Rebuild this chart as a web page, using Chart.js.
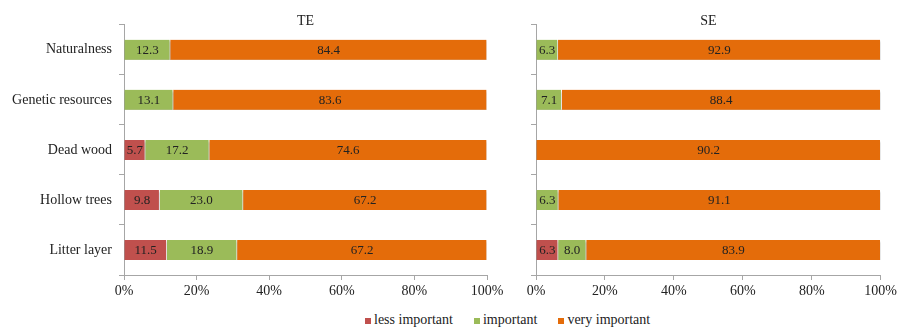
<!DOCTYPE html>
<html>
<head>
<meta charset="utf-8">
<script src="https://cdn.jsdelivr.net/npm/chart.js@4.4.0/dist/chart.umd.min.js"></script>
<style>
  body { margin: 0; background: #fff; width: 900px; height: 327px; overflow: hidden; position: relative; font-family: "Liberation Serif", serif; }
  #teBox { position: absolute; left: 0; top: 0; width: 520px; height: 305px; }
  #seBox { position: absolute; left: 510px; top: 0; width: 390px; height: 305px; }
  #legend { position: absolute; left: 365px; top: 311px; display: flex; gap: 21px; font-size: 14px; line-height: 17px; color: #222; }
  #legend span { display: flex; align-items: center; }
  #legend i { display: inline-block; width: 6px; height: 6px; margin-right: 3px; margin-top: 2px; }
</style>
</head>
<body>
<div id="teBox"><canvas id="teChart"></canvas></div>
<div id="seBox"><canvas id="seChart"></canvas></div>
<div id="legend">
  <span><i style="background:#C0504D"></i>less important</span>
  <span><i style="background:#9BBB59"></i>important</span>
  <span><i style="background:#E46C0A"></i>very important</span>
</div>
<script>
// answers per element, in %, as printed on the bars
const categories = ["Naturalness", "Genetic resources", "Dead wood", "Hollow trees", "Litter layer"];

const teLess = [null, null, 5.7, 9.8, 11.5];
const teImportant = [12.3, 13.1, 17.2, 23.0, 18.9];
const teVery = [84.4, 83.6, 74.6, 67.2, 67.2];

const seLess = [null, null, null, null, 6.3];
const seImportant = [6.3, 7.1, null, 6.3, 8.0];
const seVery = [92.9, 88.4, 90.2, 91.1, 83.9];

const serif = '"Liberation Serif", "Times New Roman", serif';

// bars are drawn as 100% stacked, so each row is scaled to its own total
function shares(series, all) {
  return series.map((v, j) => {
    if (v == null) return null;
    let tot = 0;
    all.forEach(s => { tot += s[j] || 0; });
    return v / tot * 100;
  });
}

const barShadow = {
  id: "barShadow",
  beforeDatasetsDraw(chart) {
    const c = chart.ctx;
    c.save();
    c.shadowColor = "rgba(0,0,0,0.28)";
    c.shadowOffsetY = 2;
    c.shadowBlur = 2;
  },
  afterDatasetsDraw(chart) {
    chart.ctx.restore();
  }
};

const valueLabels = {
  id: "valueLabels",
  afterDatasetsDraw(chart) {
    const ctx = chart.ctx;
    ctx.save();
    ctx.font = "13px " + serif;
    ctx.fillStyle = "#222";
    ctx.textAlign = "center";
    ctx.textBaseline = "middle";
    chart.data.datasets.forEach((ds, i) => {
      chart.getDatasetMeta(i).data.forEach((bar, j) => {
        const v = ds.shown[j];
        if (v == null) return;
        const p = bar.getProps(["x", "y", "base"], true);
        ctx.fillText(v.toFixed(1), (p.x + p.base) / 2, p.y + 1);
      });
    });
    ctx.restore();
  }
};

function makePanel(id, title, less, imp, very, showNames, axisWidth, padRight) {
  const all = [less, imp, very];
  const mk = (label, vals, color) => ({
    label: label,
    data: shares(vals, all),
    shown: vals,
    backgroundColor: color,
    borderColor: "#ffffff",
    borderWidth: { left: 0, right: 1, top: 0, bottom: 0 },
    borderSkipped: false,
    barThickness: 20
  });

  return new Chart(document.getElementById(id), {
    type: "bar",
    data: {
      labels: categories,
      datasets: [
        mk("less important", less, "#C0504D"),
        mk("important", imp, "#9BBB59"),
        mk("very important", very, "#E46C0A")
      ]
    },
    options: {
      indexAxis: "y",
      responsive: true,
      maintainAspectRatio: false,
      animation: false,
      layout: { padding: { left: 0, right: padRight, top: 0, bottom: 0 } },
      plugins: {
        legend: { display: false },
        tooltip: { enabled: false },
        title: {
          display: true,
          text: title,
          fullSize: false,
          color: "#222",
          font: { family: serif, size: 14, weight: "normal" },
          padding: { top: 13, bottom: -5 }
        }
      },
      scales: {
        x: {
          stacked: true,
          min: 0,
          max: 100,
          ticks: {
            stepSize: 20,
            color: "#222",
            padding: 3,
            font: { family: serif, size: 14 },
            callback: v => v + "%"
          },
          grid: { drawOnChartArea: false, tickLength: 5, color: "#A6A6A6" },
          border: { color: "#A6A6A6" },
          afterFit: s => { s.height = 30; }
        },
        y: {
          stacked: true,
          ticks: {
            display: showNames,
            color: "#222",
            padding: 7,
            font: { family: serif, size: 14 }
          },
          grid: { drawOnChartArea: false, tickLength: 5, color: "#A6A6A6", offset: true },
          border: { color: "#A6A6A6" },
          afterFit: s => { s.width = axisWidth; }
        }
      }
    },
    plugins: [barShadow, valueLabels]
  });
}

makePanel("teChart", "TE", teLess, teImportant, teVery, true, 124, 33);
makePanel("seChart", "SE", seLess, seImportant, seVery, false, 26, 19);
</script>
</body>
</html>
